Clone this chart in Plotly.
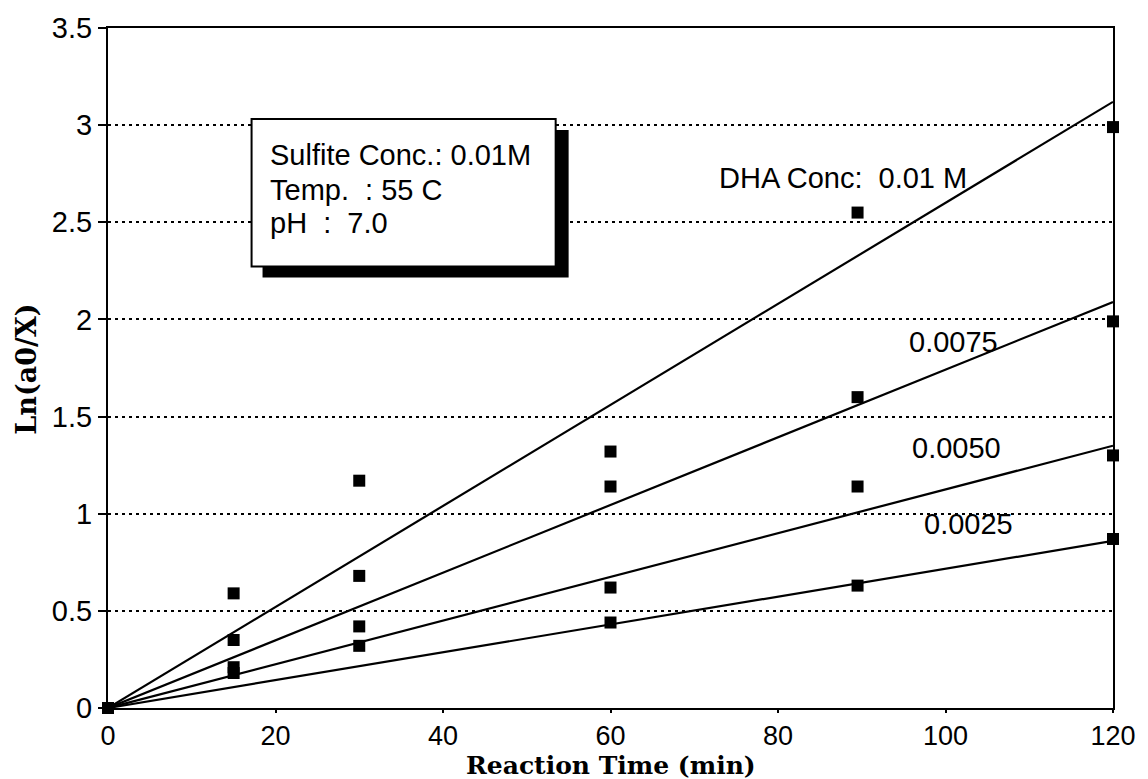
import plotly.graph_objects as go

# ---- data ----
times = [0, 15, 30, 60, 89.5, 120]
series_names = ["0.01 M", "0.0075", "0.0050", "0.0025"]
y_001 = [0, 0.59, 1.17, 1.32, 2.55, 2.99]
y_0075 = [0, 0.35, 0.68, 1.14, 1.60, 1.99]
y_0050 = [0, 0.21, 0.42, 0.62, 1.14, 1.30]
y_0025 = [0, 0.18, 0.32, 0.44, 0.63, 0.87]
fit_x = [0, 120]
fit_001 = [0, 3.12]
fit_0075 = [0, 2.09]
fit_0050 = [0, 1.35]
fit_0025 = [0, 0.86]

x_ticks = [0, 20, 40, 60, 80, 100, 120]
y_ticks = [0, 0.5, 1, 1.5, 2, 2.5, 3, 3.5]
y_tick_text = ["0", "0.5", "1", "1.5", "2", "2.5", "3", "3.5"]
box_lines = ["Sulfite Conc.: 0.01M", "Temp.  : 55 C", "pH  :  7.0"]

W, H = 1148, 779
L, R, T, B = 108, 32, 21, 71
PW, PH = W - L - R, H - T - B


def px(x):
    return (x - L) / PW


def py(y):
    return (H - B - y) / PH


fig = go.Figure()

for fy in [fit_001, fit_0075, fit_0050, fit_0025]:
    fig.add_trace(go.Scatter(x=fit_x, y=fy, mode="lines",
                             line=dict(color="black", width=2.2),
                             showlegend=False, hoverinfo="skip"))

for name, ys in zip(series_names, [y_001, y_0075, y_0050, y_0025]):
    fig.add_trace(go.Scatter(x=times, y=ys, mode="markers", name=name,
                             marker=dict(symbol="square", size=12, color="black"),
                             cliponaxis=False, showlegend=False))

font_sans = "Liberation Sans, Arial, sans-serif"
font_serif = "DejaVu Serif, serif"
SF = 29

# info box with shadow
shapes = [
    dict(type="rect", xref="paper", yref="paper",
         x0=px(263), x1=px(570), y0=py(273), y1=py(124),
         fillcolor="black", line=dict(width=0)),
    dict(type="rect", xref="paper", yref="paper",
         x0=px(252), x1=px(557), y0=py(262), y1=py(113),
         fillcolor="white", line=dict(color="black", width=2)),
]


def txt(x, y, s, size=SF, family=font_sans, xanchor="center", angle=0):
    return dict(xref="paper", yref="paper", x=px(x), y=py(y), text=s,
                xanchor=xanchor, yanchor="middle", textangle=angle,
                showarrow=False, font=dict(family=family, size=size, color="black"))


annotations = [
    txt(268, 149, box_lines[0], xanchor="left"),
    txt(268, 185, box_lines[1], xanchor="left"),
    txt(268, 218, box_lines[2], xanchor="left"),
    txt(845, 173, "DHA Conc:  0.01 M"),
    txt(956, 338, "0.0075"),
    txt(959, 445, "0.0050"),
    txt(971, 522, "0.0025"),
    txt(612, 766, "<b>Reaction Time (min)</b>", size=25, family=font_serif),
    txt(26, 366, "<b>Ln(a0/X)</b>", size=27, family=font_serif, angle=-90),
]

fig.update_layout(
    width=W, height=H,
    margin=dict(l=L, r=R, t=T, b=B, pad=0),
    paper_bgcolor="white", plot_bgcolor="white",
    shapes=shapes, annotations=annotations,
    showlegend=False,
    xaxis=dict(range=[0, 120], tickvals=x_ticks, ticks="outside", ticklen=3, tickwidth=2,
               tickcolor="black", showline=True, linecolor="black", linewidth=2, mirror=True,
               showgrid=False, zeroline=False,
               tickfont=dict(family=font_sans, size=27, color="black")),
    yaxis=dict(range=[0, 3.5], tickvals=y_ticks, ticktext=y_tick_text, ticks="outside",
               ticklen=8, tickwidth=2, tickcolor="black", showline=True, linecolor="black",
               linewidth=2, mirror=True, showgrid=True, gridcolor="black", gridwidth=1.6,
               griddash="3px,4px", zeroline=False,
               tickfont=dict(family=font_sans, size=SF, color="black")),
)

fig.write_html("out.html")
